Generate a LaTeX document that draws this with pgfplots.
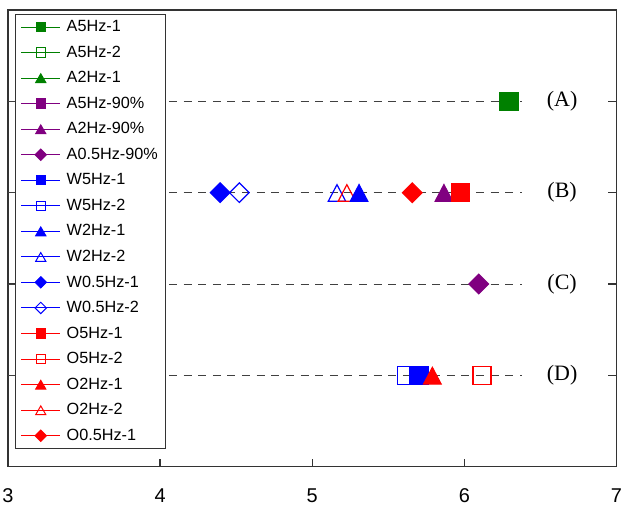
\documentclass[border=0pt]{standalone}
\usepackage{fontspec}
\setmainfont{Liberation Sans}
\newfontfamily\serifA{Liberation Serif}
\usepackage{pgfplots}
\pgfplotsset{compat=1.18}
\definecolor{cg}{RGB}{0,128,0}
\definecolor{cp}{RGB}{128,0,128}
\definecolor{cb}{RGB}{0,0,255}
\definecolor{cr}{RGB}{255,0,0}
\pgfplotsset{
  sqF/.style={mark=square*, mark size=6.8pt},
  sqO/.style={mark=square, mark size=6.8pt},
  triF/.style={mark=triangle*, mark size=7.6pt, every mark/.append style={yshift=-2.3pt, yscale=1.1}},
  triO/.style={mark=triangle, mark size=7.6pt, every mark/.append style={yshift=-2.3pt, yscale=1.1}},
  diaF/.style={mark=square*, mark size=5.2pt, every mark/.append style={rotate=45}},
  diaO/.style={mark=square, mark size=5.2pt, every mark/.append style={rotate=45}},
  LsqF/.style={mark=square*, mark size=3.5pt},
  LsqO/.style={mark=square, mark size=3.5pt},
  LtriF/.style={mark=triangle*, mark size=4.4pt, every mark/.append style={yshift=-1.2pt}},
  LtriO/.style={mark=triangle, mark size=4.4pt, every mark/.append style={yshift=-1.2pt}},
  LdiaF/.style={mark=square*, mark size=3pt, every mark/.append style={rotate=45}},
  LdiaO/.style={mark=square, mark size=3pt, every mark/.append style={rotate=45}},
  dl/.style={forget plot, dash pattern=on 6pt off 5pt, color=black!75, line width=0.75pt},
  pt/.style={forget plot, line width=0.9pt, mark options={solid}},
  lg/.style={line width=0.75pt, mark options={solid, line width=0.75pt}},
}
\begin{document}
\begin{tikzpicture}
\begin{axis}[
  name=ax,
  scale only axis, width=457.5pt, height=343.5pt,
  xmin=3, xmax=7, ymin=0, ymax=5,
  xtick={3,4,5,6,7}, ytick={1,2,3,4}, yticklabels={},
  tick align=inside, xtick pos=bottom, ytick pos=both,
  major tick length=6pt,
  axis line style={draw=black!80, line width=1pt},
  tick style={black!80, line width=0.9pt},
  ticklabel style={font=\fontsize{15}{16}\selectfont},
  xticklabel style={inner sep=0pt, yshift=-16pt},
  /pgf/number format/assume math mode=true,
  legend image code/.code={\draw[mark repeat=2,mark phase=2] plot coordinates {(0cm,0cm)(0.515cm,0cm)(1.03cm,0cm)};},
  legend style={at={(0,1)}, anchor=north west, xshift=5.25pt, yshift=-3pt,
    draw=black!80, line width=0.75pt, font=\fontsize{12.2}{14}\selectfont,
    row sep=5.2pt, inner xsep=4pt, inner ysep=2.5pt,
    /tikz/every odd column/.append style={column sep=2.5pt}},
  legend cell align=left,
  clip=false,
]
% dashed guide lines
\addplot[dl] coordinates {(3,4) (6.38,4)};
\addplot[dl] coordinates {(3,3) (6.38,3)};
\addplot[dl] coordinates {(3,2) (6.38,2)};
\addplot[dl] coordinates {(3,1) (6.38,1)};
% data points
\addplot[pt, cg, sqF] coordinates {(6.294,4)};
\addplot[pt, cp, sqF] coordinates {(5.973,3)};
\addplot[pt, cp, triF] coordinates {(5.866,3)};
\addplot[pt, cp, diaF] coordinates {(6.095,2)};
\addplot[pt, cb, sqO] coordinates {(5.62,1)};
\addplot[pt, cb, sqF] coordinates {(5.702,1)};
\addplot[pt, cb, triO] coordinates {(5.163,3)};
\addplot[pt, cr, triO] coordinates {(5.228,3)};
\addplot[pt, cb, triF] coordinates {(5.308,3)};
\addplot[pt, cb, diaF] coordinates {(4.395,3)};
\addplot[pt, cb, diaO] coordinates {(4.521,3)};
\addplot[pt, cr, sqF] coordinates {(5.973,3)};
\addplot[pt, cr, sqO] coordinates {(6.116,1)};
\addplot[pt, cr, triF] coordinates {(5.79,1)};
\addplot[pt, cr, diaF] coordinates {(5.658,3)};
% legend
\addlegendimage{lg, cg, LsqF}\addlegendentry{A5Hz-1}
\addlegendimage{lg, cg, LsqO}\addlegendentry{A5Hz-2}
\addlegendimage{lg, cg, LtriF}\addlegendentry{A2Hz-1}
\addlegendimage{lg, cp, LsqF}\addlegendentry{A5Hz-90\%}
\addlegendimage{lg, cp, LtriF}\addlegendentry{A2Hz-90\%}
\addlegendimage{lg, cp, LdiaF}\addlegendentry{A0.5Hz-90\%}
\addlegendimage{lg, cb, LsqF}\addlegendentry{W5Hz-1}
\addlegendimage{lg, cb, LsqO}\addlegendentry{W5Hz-2}
\addlegendimage{lg, cb, LtriF}\addlegendentry{W2Hz-1}
\addlegendimage{lg, cb, LtriO}\addlegendentry{W2Hz-2}
\addlegendimage{lg, cb, LdiaF}\addlegendentry{W0.5Hz-1}
\addlegendimage{lg, cb, LdiaO}\addlegendentry{W0.5Hz-2}
\addlegendimage{lg, cr, LsqF}\addlegendentry{O5Hz-1}
\addlegendimage{lg, cr, LsqO}\addlegendentry{O5Hz-2}
\addlegendimage{lg, cr, LtriF}\addlegendentry{O2Hz-1}
\addlegendimage{lg, cr, LtriO}\addlegendentry{O2Hz-2}
\addlegendimage{lg, cr, LdiaF}\addlegendentry{O0.5Hz-1}
% panel labels
\node[font=\serifA\fontsize{16.5}{18}\selectfont] at (axis cs:6.643,4) {(A)};
\node[font=\serifA\fontsize{16.5}{18}\selectfont] at (axis cs:6.643,3) {(B)};
\node[font=\serifA\fontsize{16.5}{18}\selectfont] at (axis cs:6.643,2) {(C)};
\node[font=\serifA\fontsize{16.5}{18}\selectfont] at (axis cs:6.643,1) {(D)};
\end{axis}
\pgfresetboundingbox
\path[use as bounding box] ([xshift=-6pt,yshift=-30pt]ax.south west) rectangle ([xshift=4.2pt,yshift=7.5pt]ax.north east);
\end{tikzpicture}
\end{document}
